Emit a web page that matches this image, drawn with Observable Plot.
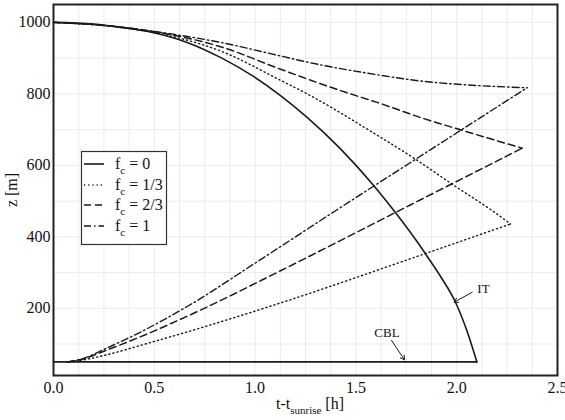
<!DOCTYPE html>
<html><head><meta charset="utf-8">
<script src="https://cdn.jsdelivr.net/npm/d3@7"></script>
<script src="https://cdn.jsdelivr.net/npm/@observablehq/plot@0.6"></script>
<style>body{margin:0;background:#fff} svg text{font-family:"Liberation Serif","Times New Roman",Tinos,"DejaVu Serif",serif !important;}</style>
</head><body><div id="chart"></div>
<script>
// ---- data (t - t_sunrise [h], z [m]) ----
const itT = [0,0.2,0.332,0.497,0.663,0.828,0.994,1.126,1.258,1.42,1.589,1.696,1.804,1.854,1.92,1.994,2.052,2.1];
const itZ = [1000,995,986,971,944,902,848,795,734,648,543,468,386,345,289,217,135,50];
const cblT = [0,2.1];
const cblZ = [50,50];

const up13T = [0,0.332,0.58,0.828,1.126,1.258,1.589,1.796,1.978,2.184,2.267];
const up13Z = [1000,986,962,920,838,800,690,617,547,470,436];
const lo13T = [0.07,0.15,0.25,0.43,0.729,1.126,1.854,2.267];
const lo13Z = [50,56,68,96,145,215,355,436];

const up23T = [0,0.332,0.58,0.828,1.126,1.424,1.622,1.82,2.027,2.325];
const up23Z = [1000,987,966,932,869,809,773,734,698,648];
const lo23T = [0.07,0.15,0.25,0.43,0.729,1.126,1.696,2.325];
const lo23Z = [50,59,80,120,195,305,468,648];

const up1T = [0,0.332,0.58,0.828,1.126,1.258,1.622,1.82,1.953,2.052,2.349];
const up1Z = [1000,987,968,944,906,889,852,836,829,825,817];
const lo1T = [0.07,0.15,0.25,0.43,0.663,1.018,1.399,1.796,2.349];
const lo1Z = [50,60,85,133,205,333,473,617,817];

const xTicks = [0,0.5,1.0,1.5,2.0,2.5];
const yTicks = [200,400,600,800,1000];
const xGrid = d3.range(0,21).map(i=>i*0.125);
const yGrid = [100,200,300,400,500,600,700,800,900,1000];

const legendLabels = ["0","1/3","2/3","1"];
const annotText = ["IT","CBL"];
const annotLabelT = [2.133,1.654];
const annotLabelZ = [255,132];
const arrowT1 = [2.077,1.677], arrowZ1 = [245,110];
const arrowT2 = [1.987,1.741], arrowZ2 = [217,56];

// ---- build tables ----
const toRows = (T,Z,branch)=>T.map((t,i)=>({t, z:Z[i], branch}));
const series = [
  {rows:[...toRows(itT,itZ,"a"),...toRows(cblT,cblZ,"b")], dash:null, w:1.6},
  {rows:[...toRows(up13T,up13Z,"a"),...toRows(lo13T,lo13Z,"b")], dash:"1.2,3", w:1.4},
  {rows:[...toRows(up23T,up23Z,"a"),...toRows(lo23T,lo23Z,"b")], dash:"7,4", w:1.5},
  {rows:[...toRows(up1T,up1Z,"a"),...toRows(lo1T,lo1Z,"b")], dash:"7,3,1.5,3", w:1.4}
];
const annots = annotText.map((s,i)=>({s, t:annotLabelT[i], z:annotLabelZ[i], t1:arrowT1[i], z1:arrowZ1[i], t2:arrowT2[i], z2:arrowZ2[i]}));

const lineMarks = series.map(s=>Plot.line(s.rows,{
  x:"t", y:"z", z:"branch", curve:"monotone-x",
  stroke:"#1a1a1a", strokeWidth:s.w, strokeDasharray:s.dash||undefined
}));

const font = "Liberation Serif, Times New Roman, serif";
const fig = Plot.plot({
  width:565, height:420,
  marginLeft:53, marginRight:8, marginTop:4, marginBottom:45,
  style:{fontFamily:font, fontSize:"16px", background:"#fff", color:"#111"},
  x:{domain:[0,2.5], ticks:xTicks, tickFormat:d3.format(".1f"), tickSize:0, tickPadding:6, label:null},
  y:{domain:[12,1050], ticks:yTicks, tickFormat:d=>String(d), tickSize:0, tickPadding:3, label:null},
  marks:[
    Plot.gridX(xGrid,{stroke:"#ebebeb", strokeOpacity:1}),
    Plot.gridY(yGrid,{stroke:"#ebebeb", strokeOpacity:1}),
    ...lineMarks,
    Plot.arrow(annots,{x1:"t1", y1:"z1", x2:"t2", y2:"z2", stroke:"#1a1a1a", strokeWidth:1, headLength:7}),
    Plot.text(annots,{x:"t", y:"z", text:"s", fontSize:13, fill:"#111"}),
    Plot.frame({stroke:"#222", strokeWidth:2})
  ]
});
document.getElementById("chart").appendChild(fig);

// ---- axis titles & legend (layout) ----
const svg = d3.select(fig);
svg.append("text").attr("transform","translate(17,190) rotate(-90)")
  .attr("text-anchor","middle").attr("font-size",16).attr("fill","#111").text("z [m]");
const xl = svg.append("text").attr("x",310).attr("y",409).attr("text-anchor","middle")
  .attr("font-size",16).attr("fill","#111");
xl.append("tspan").text("t-t");
xl.append("tspan").attr("font-size",11).attr("dy",5).text("sunrise");
xl.append("tspan").attr("dy",-5).text(" [h]");

const lg = svg.append("g");
lg.append("rect").attr("x",81.5).attr("y",151.5).attr("width",85).attr("height",93)
  .attr("fill","#fff").attr("stroke","#333").attr("stroke-width",1.2);
const rowY = [164,185,205,226];
series.forEach((s,i)=>{
  lg.append("line").attr("x1",84).attr("x2",104).attr("y1",rowY[i]).attr("y2",rowY[i])
    .attr("stroke","#1a1a1a").attr("stroke-width",s.w).attr("stroke-dasharray",s.dash);
  const t = lg.append("text").attr("x",115).attr("y",rowY[i]+5).attr("text-anchor","start")
    .attr("font-size",16).attr("fill","#111");
  t.append("tspan").text("f");
  t.append("tspan").attr("font-size",11).attr("dy",5).text("c");
  t.append("tspan").attr("dy",-5).text(" = "+legendLabels[i]);
});
</script>
</body></html>
